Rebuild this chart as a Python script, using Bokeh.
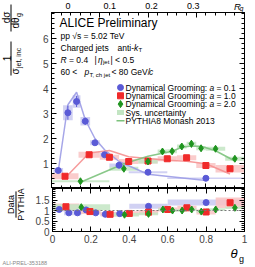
import numpy as np
from bokeh.plotting import figure
from bokeh.layouts import column, row
from bokeh.models import Range1d, LinearAxis, FixedTicker, Label, Span, CustomLabelingPolicy
from bokeh.embed import file_html
from bokeh.resources import INLINE

FONT = "Liberation Sans"

# ---------------- data ----------------
# Dynamical grooming a = 0.1
blue_lo = [0.01, 0.06, 0.11, 0.15, 0.20, 0.25, 0.30, 0.40, 0.60]
blue_hi = [0.06, 0.11, 0.15, 0.20, 0.25, 0.30, 0.40, 0.60, 1.00]
blue_val = [0.72, 3.03, 3.48, 2.69, 1.83, 1.35, 0.93, 0.65, 0.41]
blue_stat = [0.05, 0.28, 0.22, 0.14, 0.08, 0.06, 0.04, 0.03, 0.02]
blue_sys = [0.10, 0.30, 0.25, 0.17, 0.10, 0.08, 0.07, 0.04, 0.03]
blue_pythia = [0.70, 3.35, 3.85, 2.75, 2.00, 1.55, 1.08, 0.57, 0.32]
blue_ratio = [1.05, 0.89, 0.89, 1.03, 0.89, 0.82, 0.85, 1.20, 1.38]
blue_ratio_sys = [0.10, 0.12, 0.12, 0.10, 0.08, 0.08, 0.08, 0.12, 0.14]

# Dynamical grooming a = 1.0
red_lo = [0.00, 0.14, 0.25, 0.35, 0.45, 0.55, 0.65, 0.75, 0.85]
red_hi = [0.14, 0.25, 0.35, 0.45, 0.55, 0.65, 0.75, 0.85, 1.00]
red_val = [0.49, 1.35, 1.25, 1.08, 1.10, 1.19, 1.23, 0.92, 0.79]
red_stat = [0.03, 0.05, 0.05, 0.05, 0.05, 0.05, 0.05, 0.05, 0.05]
red_sys = [0.12, 0.12, 0.10, 0.10, 0.10, 0.10, 0.10, 0.10, 0.15]
red_pythia = [0.42, 1.42, 1.52, 1.27, 1.20, 1.13, 1.09, 0.99, 0.58]
red_ratio = [1.18, 0.95, 0.82, 0.86, 0.92, 1.05, 1.13, 0.93, 1.37]
red_ratio_sys = [0.15, 0.12, 0.10, 0.10, 0.10, 0.10, 0.10, 0.12, 0.25]

# Dynamical grooming a = 2.0
green_lo = [0.00, 0.30, 0.45, 0.55, 0.60, 0.65, 0.70, 0.75, 0.80, 0.90]
green_hi = [0.30, 0.45, 0.55, 0.60, 0.65, 0.70, 0.75, 0.80, 0.90, 1.00]
green_val = [0.29, 0.79, 1.08, 1.48, 1.49, 1.68, 1.79, 1.61, 1.59, 1.19]
green_stat = [0.03, 0.08, 0.10, 0.12, 0.12, 0.12, 0.15, 0.12, 0.10, 0.10]
green_sys = [0.04, 0.08, 0.08, 0.08, 0.08, 0.08, 0.08, 0.08, 0.08, 0.08]
green_pythia = [0.25, 0.99, 1.29, 1.41, 1.49, 1.65, 1.70, 1.69, 1.51, 1.10]
green_ratio = [1.16, 0.80, 0.84, 1.05, 1.00, 1.00, 1.05, 0.95, 1.05, 1.13]
green_ratio_sys = [0.14, 0.08, 0.06, 0.06, 0.06, 0.06, 0.06, 0.06, 0.06, 0.06]

x_ticks = [0, 0.2, 0.4, 0.6, 0.8, 1.0]
x_tick_labels = ["0", "0.2", "0.4", "0.6", "0.8", "1"]
rg_ticks = [0.0, 0.1, 0.2, 0.3]
rg_tick_labels = ["0", "0.1", "0.2", "0.3"]
R_jet = 0.4
top_y_ticks = [1, 2, 3, 4, 5, 6]
ratio_y_ticks = [0, 0.5, 1, 1.5]
ratio_y_labels = ["0", "0.5", "1", "1.5"]

legend_labels = ["Dynamical Grooming:", "Dynamical Grooming:", "Dynamical Grooming:",
                 "Sys. uncertainty", "PYTHIA8 Monash 2013"]
legend_a = ["= 0.1", "= 1.0", "= 2.0"]

BLUE, BLUE_BOX, BLUE_LINE = "#5a5ad6", "#c9c9f1", "#9c9ce6"
RED, RED_BOX, RED_LINE = "#f02a2a", "#f9c3c3", "#f59090"
GREEN, GREEN_BOX, GREEN_LINE = "#1f941f", "#c3e5c3", "#7cc27c"

TOP_H = 12            # height of the strip holding the R_g labels
P1_H = 188 - TOP_H    # frame height of the upper panel

# ---------------- geometry helpers (page px -> data of the main panels) ----------------
def X(px):
    return (px - 51) / 193.0

def Y1(py):
    return (188 - py) / 25.0

NO_LABELS = CustomLabelingPolicy(code="return new indices.constructor(indices.size, 0);")


def style_axis(ax, show_labels=False, size="10px"):
    ax.major_tick_in = 5
    ax.major_tick_out = 0
    ax.minor_tick_in = 3
    ax.minor_tick_out = 0
    ax.axis_line_color = "black"
    ax.major_tick_line_color = "black"
    ax.minor_tick_line_color = "black"
    ax.major_label_text_font = FONT
    if show_labels:
        ax.major_label_text_font_size = size
        ax.major_label_standoff = 3
    else:
        ax.major_label_text_font_size = "0px"
        ax.major_label_standoff = 0
        ax.major_label_policy = NO_LABELS


def lab(p, x, y, text, size, align="left", baseline="middle", style="normal",
        angle=0.0, color="black"):
    p.add_layout(Label(x=x, y=y, text=text, text_font=FONT,
                       text_font_size=f"{size}px", text_align=align,
                       text_baseline=baseline, text_font_style=style,
                       angle=angle, text_color=color))


def strip(w, h, x0, x1, y_top, y_bot):
    f = figure(width=w, height=h, x_range=Range1d(x0, x1), y_range=Range1d(y_bot, y_top),
               output_backend="svg", toolbar_location=None, min_border=0,
               x_axis_location=None, y_axis_location=None)
    f.grid.visible = False
    f.outline_line_color = None
    f.background_fill_color = "white"
    f.border_fill_color = "white"
    return f


x_minor = [round(0.05 * i, 3) for i in range(21)]
A = np.pi / 2

# ---------------- top panel ----------------
p1 = figure(width=223, height=P1_H, x_range=Range1d(0, 1), y_range=Range1d(0, P1_H / 25.0),
            output_backend="svg", toolbar_location=None,
            min_border_left=19, min_border_right=11, min_border_top=0, min_border_bottom=0)
p1.grid.visible = False
p1.outline_line_color = "black"
p1.background_fill_color = "white"
p1.border_fill_color = "white"

p1.xaxis[0].ticker = FixedTicker(ticks=x_ticks, minor_ticks=x_minor)
style_axis(p1.xaxis[0], False)
y_minor_top = [round(0.2 * i, 2) for i in range(36)]
p1.yaxis[0].ticker = FixedTicker(ticks=top_y_ticks, minor_ticks=y_minor_top)
style_axis(p1.yaxis[0], True, "10px")

rg_theta = [t / R_jet for t in rg_ticks]
top_ax = LinearAxis(ticker=FixedTicker(ticks=rg_theta, minor_ticks=x_minor))
style_axis(top_ax, False)
p1.add_layout(top_ax, "above")
right_ax = LinearAxis(ticker=FixedTicker(ticks=top_y_ticks, minor_ticks=y_minor_top))
style_axis(right_ax, False)
p1.add_layout(right_ax, "right")


def draw_boxes(p, lo, hi, val, sys, box):
    lo = np.array(lo); hi = np.array(hi); val = np.array(val); sys = np.array(sys)
    p.quad(left=lo, right=hi, bottom=val - sys, top=val + sys, fill_color=box,
           fill_alpha=0.85, line_color=None)
    return (lo + hi) / 2


bc = draw_boxes(p1, blue_lo, blue_hi, blue_val, blue_sys, BLUE_BOX)
rc = draw_boxes(p1, red_lo, red_hi, red_val, red_sys, RED_BOX)
gc = draw_boxes(p1, green_lo, green_hi, green_val, green_sys, GREEN_BOX)

p1.line(bc, blue_pythia, line_color=BLUE_LINE, line_width=1.5, line_alpha=0.9)
p1.line(rc, red_pythia, line_color=RED_LINE, line_width=1.5, line_alpha=0.9)
p1.line(gc, green_pythia, line_color=GREEN_LINE, line_width=1.5, line_alpha=0.9)

MSIZE = {"circle": 6, "square": 6, "diamond": 7}
for c, val, stat, col, mk in [(bc, blue_val, blue_stat, BLUE, "circle"),
                              (rc, red_val, red_stat, RED, "square"),
                              (gc, green_val, green_stat, GREEN, "diamond")]:
    v = np.array(val); s = np.array(stat)
    p1.segment(x0=c, y0=v - s, x1=c, y1=v + s, line_color=col, line_width=1)
    p1.scatter(c, v, marker=mk, size=MSIZE[mk], fill_color=col, line_color=col)

# header texts
lab(p1, X(59), Y1(22.5), "ALICE Preliminary", 12)
lab(p1, X(60), Y1(35), "pp √s = 5.02 TeV", 8.5)
lab(p1, X(60), Y1(47), "Charged jets", 8.5)
lab(p1, X(117), Y1(47), "anti-", 8.5)
lab(p1, X(133.5), Y1(47), "k", 8.5, style="italic")
lab(p1, X(138), Y1(49.5), "T", 6)
lab(p1, X(60), Y1(59), "R", 8.5, style="italic")
lab(p1, X(68.5), Y1(59), "= 0.4", 8.5)
lab(p1, X(94), Y1(59), "|", 8.5)
lab(p1, X(97.5), Y1(59), "η", 8.5, style="italic")
lab(p1, X(102.5), Y1(61.5), "jet", 6)
lab(p1, X(110), Y1(59), "| < 0.5", 8.5)
lab(p1, X(60), Y1(71), "60 <", 8.5)
lab(p1, X(84), Y1(71), "p", 8.5, style="italic")
lab(p1, X(89), Y1(74), "T, ch jet", 6)
lab(p1, X(111), Y1(71), "< 80 GeV/", 8.5)
lab(p1, X(148.5), Y1(71), "c", 8.5, style="italic")

# legend
leg_y = [87, 95.3, 103.6, 112, 120.3]
p1.scatter([X(120)], [Y1(leg_y[0])], marker="circle", size=6, fill_color=BLUE, line_color=BLUE)
p1.scatter([X(120)], [Y1(leg_y[1])], marker="square", size=6, fill_color=RED, line_color=RED)
p1.scatter([X(120)], [Y1(leg_y[2])], marker="diamond", size=7, fill_color=GREEN, line_color=GREEN)
p1.quad(left=[X(116.5)], right=[X(123.5)], bottom=[Y1(leg_y[3] + 2.5)], top=[Y1(leg_y[3] - 2.5)],
        fill_color=GREEN_BOX, line_color=None)
p1.line([X(116), X(124)], [Y1(leg_y[4]), Y1(leg_y[4])], line_color=GREEN_LINE, line_width=1.5)
for i, t in enumerate(legend_labels):
    lab(p1, X(125), Y1(leg_y[i]), t, 8.5)
for i, t in enumerate(legend_a):
    lab(p1, X(209), Y1(leg_y[i]), "a", 8.5, style="italic")
    lab(p1, X(216), Y1(leg_y[i]), t, 8.5)

# ---------------- top strip (R_g axis labels) ----------------
ts = strip(223, TOP_H, X(32), X(255), 0, TOP_H)
for t, s in zip(rg_theta, rg_tick_labels):
    lab(ts, t, 5.8, s, 9, align="center")
lab(ts, X(243), 5.5, "R", 9.5, style="italic")
lab(ts, X(249.5), 8.3, "g", 6.5, style="italic")

# ---------------- left strip 1 (y title of top panel) ----------------
ls1 = strip(32, 188, 0, 32, 0, 188)
lab(ls1, 6, 17, "dσ", 10, align="center", angle=A)
ls1.segment(x0=[10.5], y0=[4], x1=[10.5], y1=[31], line_color="black", line_width=1)
lab(ls1, 15, 28, "dθ", 10, align="left", angle=A)
lab(ls1, 18, 16.5, "g", 7, align="left", angle=A)
lab(ls1, 6, 58, "1", 10, align="center", angle=A)
ls1.segment(x0=[10.5], y0=[41], x1=[10.5], y1=[75], line_color="black", line_width=1)
lab(ls1, 15, 74, "σ", 10, align="left", angle=A)
lab(ls1, 18, 67.5, "jet, inc", 7, align="left", angle=A)

# ---------------- bottom (ratio) panel ----------------
p2 = figure(width=223, height=59, x_range=p1.x_range, y_range=Range1d(0, 2.05),
            output_backend="svg", toolbar_location=None,
            min_border_left=19, min_border_right=11, min_border_top=0, min_border_bottom=16)
p2.grid.visible = False
p2.outline_line_color = "black"
p2.background_fill_color = "white"
p2.border_fill_color = "white"

p2.xaxis[0].ticker = FixedTicker(ticks=x_ticks, minor_ticks=x_minor)
style_axis(p2.xaxis[0], True, "10px")
p2.xaxis[0].major_label_overrides = {t: s for t, s in zip(x_ticks, x_tick_labels)}
y_minor_ratio = [round(0.1 * i, 2) for i in range(21)]
p2.yaxis[0].ticker = FixedTicker(ticks=ratio_y_ticks, minor_ticks=y_minor_ratio)
style_axis(p2.yaxis[0], True, "10px")
p2.yaxis[0].major_label_overrides = {t: s for t, s in zip(ratio_y_ticks, ratio_y_labels)}
top2 = LinearAxis(ticker=FixedTicker(ticks=x_ticks, minor_ticks=x_minor))
style_axis(top2, False)
p2.add_layout(top2, "above")
right2 = LinearAxis(ticker=FixedTicker(ticks=ratio_y_ticks, minor_ticks=y_minor_ratio))
style_axis(right2, False)
p2.add_layout(right2, "right")

p2.add_layout(Span(location=1, dimension="width", line_color="#777777", line_dash="2 2", line_width=1))

for lo, hi, r, rs, box in [
        (blue_lo, blue_hi, blue_ratio, blue_ratio_sys, BLUE_BOX),
        (red_lo, red_hi, red_ratio, red_ratio_sys, RED_BOX),
        (green_lo, green_hi, green_ratio, green_ratio_sys, GREEN_BOX)]:
    lo = np.array(lo); hi = np.array(hi); r = np.array(r); rs = np.array(rs)
    p2.quad(left=lo, right=hi, bottom=r - rs, top=r + rs, fill_color=box, fill_alpha=0.85, line_color=None)

for lo, hi, r, col, mk in [(blue_lo, blue_hi, blue_ratio, BLUE, "circle"),
                           (red_lo, red_hi, red_ratio, RED, "square"),
                           (green_lo, green_hi, green_ratio, GREEN, "diamond")]:
    c = (np.array(lo) + np.array(hi)) / 2
    p2.scatter(c, r, marker=mk, size=MSIZE[mk], fill_color=col, line_color=col)

# ---------------- left strip 2 (ratio y title) ----------------
ls2 = strip(32, 59, 0, 32, 188, 247)
lab(ls2, 10, 210, "Data", 9, align="center", angle=A)
ls2.segment(x0=[15.5], y0=[192], x1=[15.5], y1=[228], line_color="black", line_width=1)
lab(ls2, 20.5, 210, "PYTHIA", 9, align="center", angle=A)

# ---------------- bottom strip (x title, tag) ----------------
bs = strip(255, 20, 0, 255, 247, 267)
lab(bs, 230, 253, "θ", 13, style="italic")
lab(bs, 238.5, 258.5, "g", 9)
lab(bs, 2, 262.5, "ALI-PREL-353188", 5.5, color="#888888")

layout = column(
    row(ls1, column(ts, p1, spacing=0), spacing=0),
    row(ls2, p2, spacing=0),
    bs,
    spacing=0,
)
open("out.html", "w").write(file_html(layout, INLINE))
